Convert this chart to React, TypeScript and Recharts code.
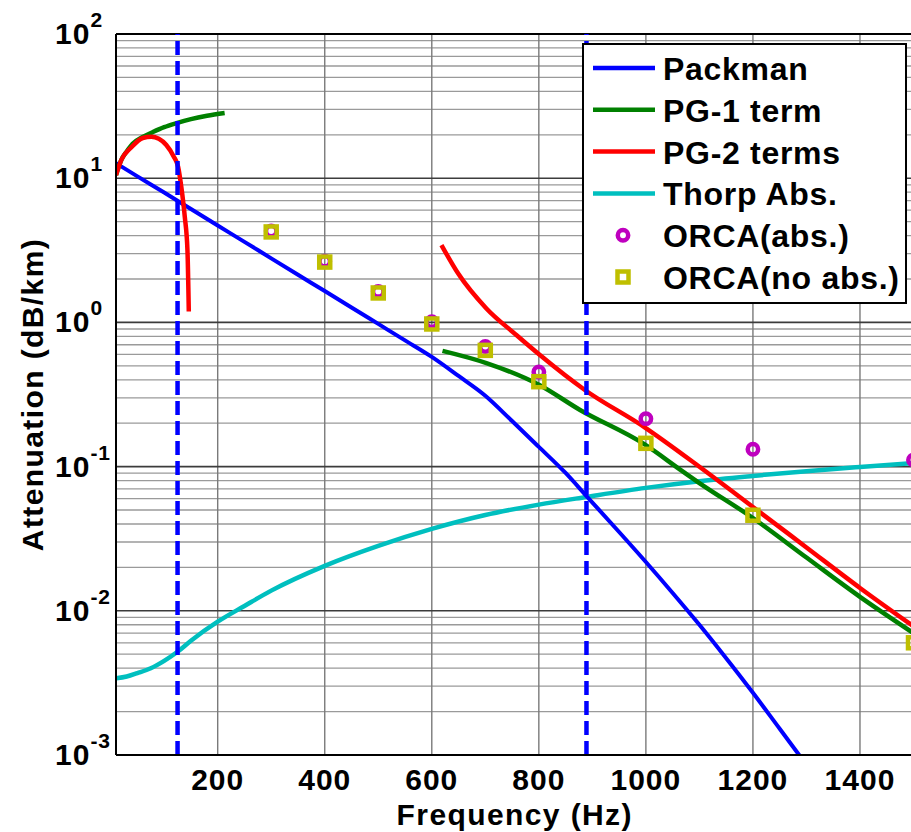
import React from 'react';
import {
  ComposedChart,
  Line,
  Scatter,
  XAxis,
  YAxis,
  CartesianGrid,
  ReferenceLine,
  Legend,
} from 'recharts';

// [frequency Hz, attenuation dB/km]
const packman: [number, number][] = [
  [10, 12.7], [50, 10.3], [100, 7.96], [150, 6.11], [200, 4.7], [250, 3.62],
  [300, 2.78], [350, 2.14], [400, 1.65], [450, 1.27], [500, 0.976],
  [550, 0.75], [600, 0.576], [650, 0.425], [700, 0.31], [750, 0.207],
  [800, 0.137], [850, 0.0903], [889, 0.0625], [950, 0.0352], [1000, 0.0218],
  [1050, 0.0133], [1100, 0.008], [1150, 0.00469], [1200, 0.0027],
  [1250, 0.00152], [1290, 0.00096],
];

const pg1Low: [number, number][] = [
  [10, 10.5], [20, 13.4], [30, 15.3], [41, 17.3], [60, 19.3], [79, 20.9],
  [100, 22.6], [123, 24.1], [150, 25.7], [180, 27.1], [213, 28.3],
];

const pg1High: [number, number][] = [
  [620, 0.634], [702, 0.522], [801, 0.368], [877, 0.247], [997, 0.143],
  [1068, 0.093], [1100, 0.0769], [1200, 0.044], [1300, 0.0234],
  [1400, 0.0125], [1500, 0.007],
];

const pg2Low: [number, number][] = [
  [10, 10.5], [20, 13.4], [39, 16.4], [60, 19.0], [76, 19.4], [90, 18.8],
  [104, 17.0], [118, 14.1], [126, 12.0], [132, 8.7], [138.5, 5.4],
  [143.5, 3.16], [146, 1.19],
];

const pg2High: [number, number][] = [
  [618, 3.44], [649, 2.19], [702, 1.25], [758, 0.818], [802, 0.594],
  [886, 0.34], [997, 0.188], [1100, 0.0998], [1200, 0.0525],
  [1300, 0.0275], [1400, 0.0144], [1500, 0.0078],
];

const thorp: [number, number][] = [
  [10, 0.0034], [30, 0.0035], [50, 0.0037], [75, 0.004], [100, 0.0045],
  [125, 0.0052], [150, 0.0062], [200, 0.0084], [250, 0.0108], [300, 0.0138],
  [400, 0.0205], [500, 0.0282], [600, 0.037], [700, 0.0462], [800, 0.0545],
  [889, 0.0616], [1000, 0.0712], [1100, 0.0792], [1200, 0.0862],
  [1300, 0.093], [1400, 0.0995], [1500, 0.106],
];

const orcaAbs: [number, number][] = [
  [300, 4.3], [400, 2.66], [500, 1.64], [600, 1.01], [700, 0.68],
  [800, 0.453], [1000, 0.215], [1200, 0.132], [1500, 0.111],
];

const orcaNoAbs: [number, number][] = [
  [300, 4.24], [400, 2.62], [500, 1.6], [600, 0.975], [700, 0.64],
  [800, 0.388], [1000, 0.145], [1200, 0.046], [1500, 0.006],
];

const cutoffs = [125, 889];

const xTicks = [200, 400, 600, 800, 1000, 1200, 1400];
const yTicks = [0.001, 0.01, 0.1, 1, 10, 100];
const minorSteps = [2, 3, 4, 5, 6, 7, 8, 9];
const yMinor = yTicks.slice(0, -1).flatMap((d) => minorSteps.map((m) => m * d));

const toPoints = (rows: [number, number][]) => rows.map(([f, v]) => ({ f, v }));

// recharts 3 may hand the grid generator a plain d3 scale or a wrapper with .map
const scaleOf = (axis: any, v: number): number => {
  const s = axis && axis.scale;
  if (typeof s === 'function') return s(v);
  if (s && typeof s.map === 'function') return s.map(v);
  if (s && typeof s.apply === 'function') return s.apply(v);
  return NaN;
};

const FONT = '"Liberation Sans", Arial, sans-serif';

const BLUE = '#0000FF';
const GREEN = '#008000';
const RED = '#FF0000';
const CYAN = '#00BFBF';
const MAGENTA = '#BF00BF';
const YELLOW = '#BFBF00';

const legendRows = [
  { name: 'Packman', color: BLUE, kind: 'line' },
  { name: 'PG-1 term', color: GREEN, kind: 'line' },
  { name: 'PG-2 terms', color: RED, kind: 'line' },
  { name: 'Thorp Abs.', color: CYAN, kind: 'line' },
  { name: 'ORCA(abs.)', color: MAGENTA, kind: 'circle' },
  { name: 'ORCA(no abs.)', color: YELLOW, kind: 'square' },
];

const CircleMark = (props: any) => (
  <circle cx={props.cx} cy={props.cy} r={5.2} fill="none" stroke={MAGENTA} strokeWidth={4.5} />
);

const SquareMark = (props: any) => (
  <rect
    x={props.cx - 5.5}
    y={props.cy - 5.5}
    width={11}
    height={11}
    fill="none"
    stroke={YELLOW}
    strokeWidth={4.5}
  />
);

const XTick = ({ x, y, payload }: any) => (
  <text
    x={x}
    y={y + 35}
    textAnchor="middle"
    fontFamily={FONT}
    fontWeight="bold"
    fontSize={30}
    letterSpacing={1}
    fill="#000"
  >
    {payload.value}
  </text>
);

const YTick = ({ x, y, payload }: any) => {
  const exp = Math.round(Math.log10(payload.value));
  return (
    <text x={x - 61} y={y + 10} fontFamily={FONT} fontWeight="bold" fill="#000" letterSpacing={1}>
      <tspan fontSize={30}>10</tspan>
      <tspan fontSize={21} dy={-17}>
        {exp}
      </tspan>
    </text>
  );
};

const renderLegend = () => (
  <svg width={325} height={261} style={{ display: 'block' }}>
    <rect x={1} y={1} width={323} height={259} fill="#fff" stroke="#000" strokeWidth={2} />
    {legendRows.map((r, i) => {
      const cy = 25 + i * 41.8;
      return (
        <g key={r.name}>
          {r.kind === 'line' && (
            <line x1={11} x2={73} y1={cy} y2={cy} stroke={r.color} strokeWidth={4.5} />
          )}
          {r.kind === 'circle' && <CircleMark cx={41} cy={cy} />}
          {r.kind === 'square' && <SquareMark cx={41} cy={cy} />}
          <text
            x={81}
            y={cy + 12}
            fontFamily={FONT}
            fontWeight="bold"
            fontSize={32}
            letterSpacing={0.7}
            fill="#000"
          >
            {r.name}
          </text>
        </g>
      );
    })}
  </svg>
);

const App: React.FC = () => (
  <div
    style={{
      position: 'absolute',
      left: 0,
      top: 0,
      width: 911,
      height: 832,
      overflow: 'hidden',
      background: '#fff',
    }}
  >
    <ComposedChart
      width={930}
      height={832}
      margin={{ top: 34, right: 16.5, bottom: 17, left: 16 }}
    >
      <CartesianGrid
        vertical={false}
        stroke="#9a9a9a"
        strokeWidth={1.3}
        horizontalCoordinatesGenerator={({ yAxis }: any) => yMinor.map((v) => scaleOf(yAxis, v))}
      />
      <CartesianGrid
        stroke="#7a7a7a"
        strokeWidth={1.4}
        horizontal={false}
        verticalCoordinatesGenerator={({ xAxis }: any) => xTicks.map((v) => scaleOf(xAxis, v))}
      />
      <CartesianGrid
        vertical={false}
        stroke="#3c3c3c"
        strokeWidth={1.6}
        horizontalCoordinatesGenerator={({ yAxis }: any) => yTicks.map((v) => scaleOf(yAxis, v))}
      />
      <XAxis
        type="number"
        dataKey="f"
        domain={[10, 1500]}
        ticks={xTicks}
        interval={0}
        allowDataOverflow
        height={60}
        tickSize={0}
        tickMargin={0}
        tickLine={false}
        axisLine={{ stroke: '#000', strokeWidth: 2 }}
        tick={<XTick />}
        label={(p: any) => {
          const vb = p.viewBox;
          return (
            <text
              x={vb.x + vb.width / 2}
              y={vb.y + 70}
              textAnchor="middle"
              fontFamily={FONT}
              fontWeight="bold"
              fontSize={30}
              letterSpacing={1.4}
              fill="#000"
            >
              Frequency (Hz)
            </text>
          );
        }}
      />
      <YAxis
        type="number"
        dataKey="v"
        scale="log"
        domain={[0.001, 100]}
        ticks={yTicks}
        interval={0}
        allowDataOverflow
        width={100}
        tickSize={0}
        tickMargin={0}
        tickLine={false}
        axisLine={{ stroke: '#000', strokeWidth: 2 }}
        tick={<YTick />}
        label={(p: any) => {
          const vb = p.viewBox;
          const cx = vb.x + 27;
          const cy = vb.y + vb.height / 2;
          return (
            <text
              x={cx}
              y={cy}
              transform={`rotate(-90, ${cx}, ${cy})`}
              textAnchor="middle"
              fontFamily={FONT}
              fontWeight="bold"
              fontSize={30}
              letterSpacing={1.4}
              fill="#000"
            >
              Attenuation (dB/km)
            </text>
          );
        }}
      />
      <ReferenceLine y={100} stroke="#000" strokeWidth={2} />
      <ReferenceLine x={1500} stroke="#000" strokeWidth={2} />

      <Line data={toPoints(thorp)} dataKey="v" stroke={CYAN} strokeWidth={4.5} dot={false} type="monotone" isAnimationActive={false} />
      <Line data={toPoints(packman)} dataKey="v" stroke={BLUE} strokeWidth={4} dot={false} type="monotone" isAnimationActive={false} />
      <Line data={toPoints(pg1Low)} dataKey="v" stroke={GREEN} strokeWidth={4.5} dot={false} type="monotone" isAnimationActive={false} />
      <Line data={toPoints(pg1High)} dataKey="v" stroke={GREEN} strokeWidth={4.5} dot={false} type="monotone" isAnimationActive={false} />
      <Line data={toPoints(pg2Low)} dataKey="v" stroke={RED} strokeWidth={4.5} dot={false} type="monotone" isAnimationActive={false} />
      <Line data={toPoints(pg2High)} dataKey="v" stroke={RED} strokeWidth={4.5} dot={false} type="monotone" isAnimationActive={false} />

      {cutoffs.map((c) => (
        <ReferenceLine key={c} x={c} stroke={BLUE} strokeWidth={4.5} strokeDasharray="14 6" />
      ))}

      <Scatter data={toPoints(orcaAbs)} dataKey="v" shape={<CircleMark />} isAnimationActive={false} />
      <Scatter data={toPoints(orcaNoAbs)} dataKey="v" shape={<SquareMark />} isAnimationActive={false} />

      <Legend
        layout="vertical"
        align="center"
        verticalAlign="middle"
        content={renderLegend}
        wrapperStyle={{ left: 582, top: 43, width: 325, height: 261 }}
      />
    </ComposedChart>
  </div>
);

export default App;
